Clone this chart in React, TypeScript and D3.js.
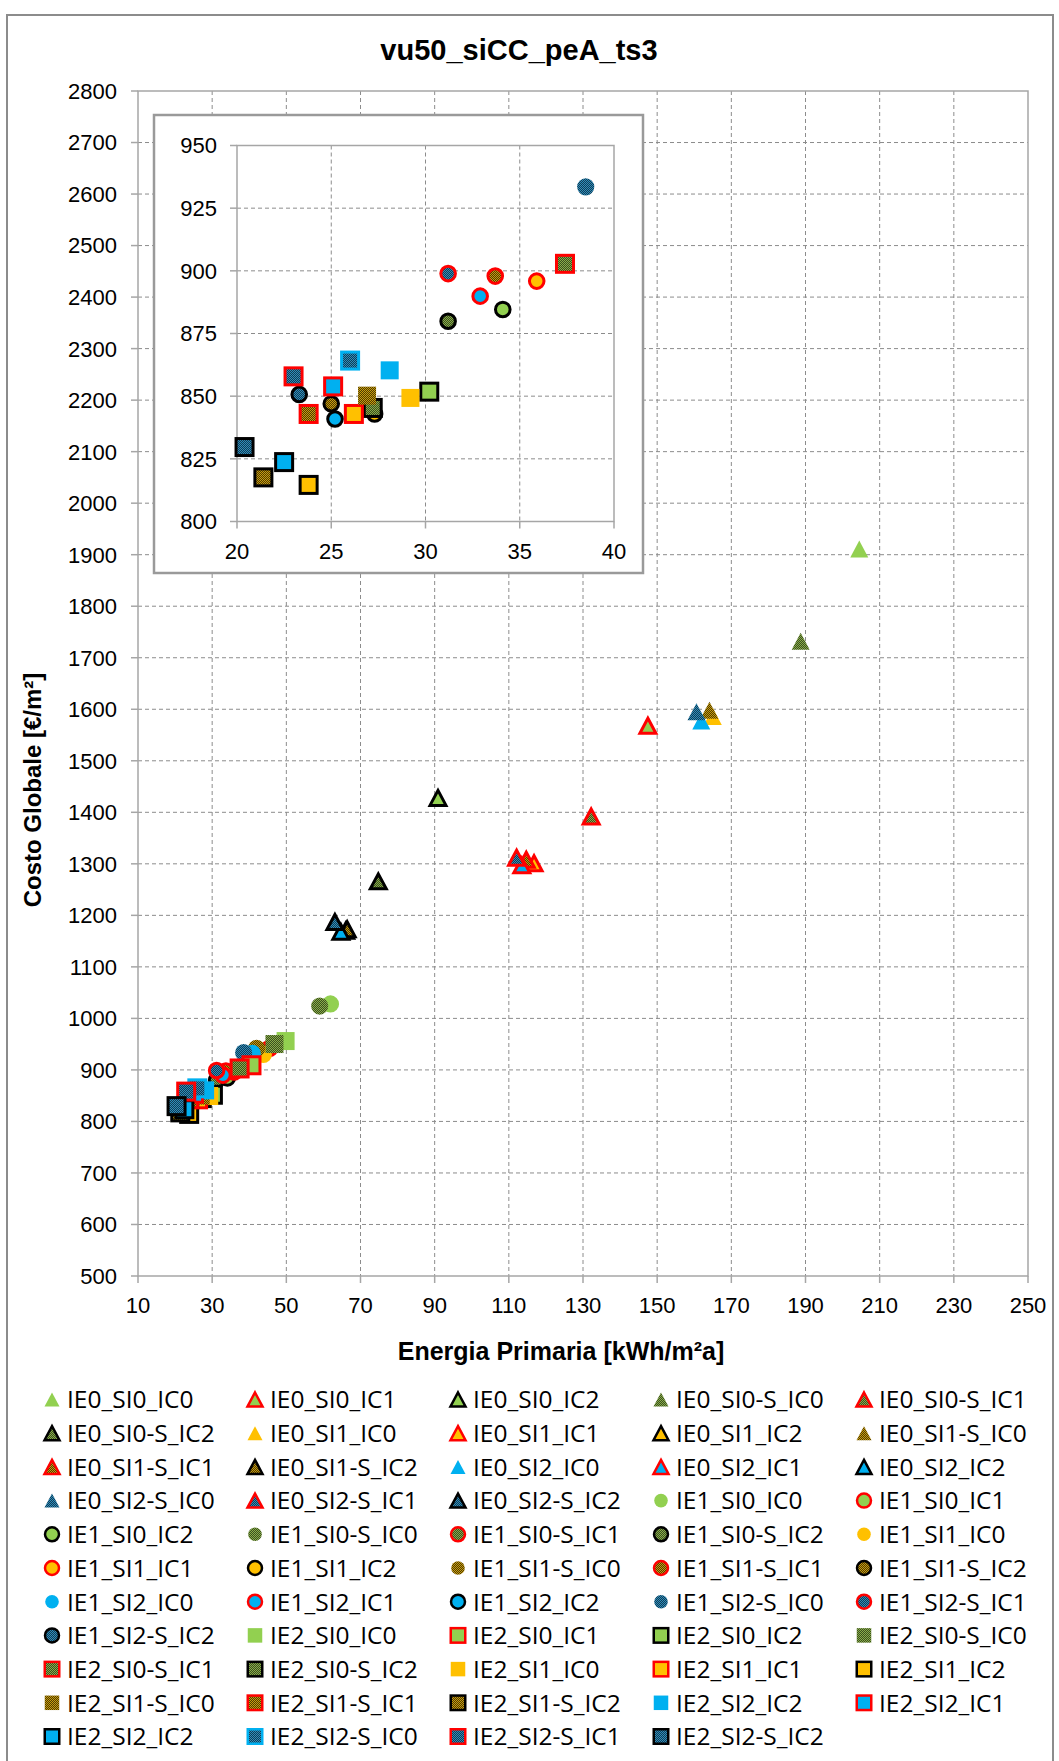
import { useEffect, useRef } from 'react'
import * as d3 from 'd3'

const W = 1059
const H = 1761

const chartTitle = 'vu50_siCC_peA_ts3'
const xTitle = 'Energia Primaria [kWh/m²a]'
const yTitle = 'Costo Globale [€/m²]'

const xTicks = [10, 30, 50, 70, 90, 110, 130, 150, 170, 190, 210, 230, 250]
const yTicks = [500, 600, 700, 800, 900, 1000, 1100, 1200, 1300, 1400, 1500, 1600, 1700, 1800, 1900, 2000, 2100, 2200, 2300, 2400, 2500, 2600, 2700, 2800]
const insetXTicks = [20, 25, 30, 35, 40]
const insetYTicks = [800, 825, 850, 875, 900, 925, 950]

// series codes (used for the marker style)
const seriesKeys = [
    'IE0_SI0_IC0', 'IE0_SI0_IC1', 'IE0_SI0_IC2', 'IE0_SI0-S_IC0', 'IE0_SI0-S_IC1', 'IE0_SI0-S_IC2',
    'IE0_SI1_IC0', 'IE0_SI1_IC1', 'IE0_SI1_IC2', 'IE0_SI1-S_IC0', 'IE0_SI1-S_IC1', 'IE0_SI1-S_IC2',
    'IE0_SI2_IC0', 'IE0_SI2_IC1', 'IE0_SI2_IC2', 'IE0_SI2-S_IC0', 'IE0_SI2-S_IC1', 'IE0_SI2-S_IC2',
    'IE1_SI0_IC0', 'IE1_SI0_IC1', 'IE1_SI0_IC2', 'IE1_SI0-S_IC0', 'IE1_SI0-S_IC1', 'IE1_SI0-S_IC2',
    'IE1_SI1_IC0', 'IE1_SI1_IC1', 'IE1_SI1_IC2', 'IE1_SI1-S_IC0', 'IE1_SI1-S_IC1', 'IE1_SI1-S_IC2',
    'IE1_SI2_IC0', 'IE1_SI2_IC1', 'IE1_SI2_IC2', 'IE1_SI2-S_IC0', 'IE1_SI2-S_IC1', 'IE1_SI2-S_IC2',
    'IE2_SI0_IC0', 'IE2_SI0_IC1', 'IE2_SI0_IC2', 'IE2_SI0-S_IC0', 'IE2_SI0-S_IC1', 'IE2_SI0-S_IC2',
    'IE2_SI1_IC0', 'IE2_SI1_IC1', 'IE2_SI1_IC2', 'IE2_SI1-S_IC0', 'IE2_SI1-S_IC1', 'IE2_SI1-S_IC2',
    'IE2_SI2_IC0', 'IE2_SI2_IC1', 'IE2_SI2_IC2', 'IE2_SI2-S_IC0', 'IE2_SI2-S_IC1', 'IE2_SI2-S_IC2',
]

// legend text as printed (one label repeats in the original)
const legendLabels = [
    'IE0_SI0_IC0', 'IE0_SI0_IC1', 'IE0_SI0_IC2', 'IE0_SI0-S_IC0', 'IE0_SI0-S_IC1', 'IE0_SI0-S_IC2',
    'IE0_SI1_IC0', 'IE0_SI1_IC1', 'IE0_SI1_IC2', 'IE0_SI1-S_IC0', 'IE0_SI1-S_IC1', 'IE0_SI1-S_IC2',
    'IE0_SI2_IC0', 'IE0_SI2_IC1', 'IE0_SI2_IC2', 'IE0_SI2-S_IC0', 'IE0_SI2-S_IC1', 'IE0_SI2-S_IC2',
    'IE1_SI0_IC0', 'IE1_SI0_IC1', 'IE1_SI0_IC2', 'IE1_SI0-S_IC0', 'IE1_SI0-S_IC1', 'IE1_SI0-S_IC2',
    'IE1_SI1_IC0', 'IE1_SI1_IC1', 'IE1_SI1_IC2', 'IE1_SI1-S_IC0', 'IE1_SI1-S_IC1', 'IE1_SI1-S_IC2',
    'IE1_SI2_IC0', 'IE1_SI2_IC1', 'IE1_SI2_IC2', 'IE1_SI2-S_IC0', 'IE1_SI2-S_IC1', 'IE1_SI2-S_IC2',
    'IE2_SI0_IC0', 'IE2_SI0_IC1', 'IE2_SI0_IC2', 'IE2_SI0-S_IC0', 'IE2_SI0-S_IC1', 'IE2_SI0-S_IC2',
    'IE2_SI1_IC0', 'IE2_SI1_IC1', 'IE2_SI1_IC2', 'IE2_SI1-S_IC0', 'IE2_SI1-S_IC1', 'IE2_SI1-S_IC2',
    'IE2_SI2_IC2', 'IE2_SI2_IC1', 'IE2_SI2_IC2', 'IE2_SI2-S_IC0', 'IE2_SI2-S_IC1', 'IE2_SI2-S_IC2',
]

// Energia Primaria [kWh/m2a]
const energia = [
    204.5, 147.5, 90.9, 188.7, 132.2, 74.8,
    165.0, 116.8, 66.0, 164.1, 114.7, 66.4,
    161.9, 113.5, 64.7, 160.6, 112.1, 63.1,
    61.9, 45.5, 34.1, 59.0, 44.0, 31.2,
    43.8, 35.9, 27.3, 42.0, 33.7, 25.0,
    40.8, 32.9, 25.2, 38.5, 31.2, 23.3,
    49.8, 40.6, 30.2, 46.8, 37.4, 27.2,
    29.2, 26.2, 23.8, 26.9, 23.8, 21.4,
    28.1, 25.1, 22.5, 26.0, 23.0, 20.4,
]

// Costo Globale [€/m2]
const costo = [
    1911, 1568, 1428, 1732, 1392, 1266,
    1586, 1301, 1170, 1598, 1308, 1173,
    1577, 1297, 1168, 1595, 1312, 1187,
    1028, 942, 884.6, 1024, 936, 879.9,
    930, 895.9, 842.9, 941.8, 897.9, 847.0,
    932, 889.9, 840.9, 933.5, 898.9, 850.7,
    956, 909, 851.8, 950.2, 902.8, 845.3,
    849.3, 842.9, 814.6, 850.2, 842.9, 817.6,
    860.3, 853.9, 823.7, 864.2, 857.9, 829.7,
]

const SI_COLORS: any = { '0': '#92D050', '1': '#FFC000', '2': '#00B0F0' }
const PATTERNS = [
    ['si0', '#3a4f1f', '#8aac4a'],
    ['si1', '#4f3c00', '#c89c10'],
    ['si2', '#123c54', '#2e8dbb'],
]
const FONT = "'Liberation Sans', Arial, sans-serif"
const LEGEND_FONT = "'Open Sans', 'Liberation Sans', sans-serif"

function fillOf(key: string) {
    const m: any = key.match(/SI(\d)(-S)?/)
    if (m[2]) return `url(#pat-si${m[1]})`
    return SI_COLORS[m[1]]
}
function strokeOf(key: string) {
    if (key === 'IE2_SI2-S_IC0') return '#00B0F0'
    if (key.endsWith('IC1')) return '#FF0000'
    if (key.endsWith('IC2')) return '#000000'
    return 'none'
}

/* draws one marker centred at x,y */
function marker(g: any, key: string, x: number, y: number, small: boolean) {
    const stroke = strokeOf(key)
    const lined = stroke !== 'none'
    const sw = small ? 2.5 : 3
    const fill = fillOf(key)
    if (key.startsWith('IE1')) {
        const r = small ? (lined ? 7 : 6.8) : (lined ? 7.3 : 8.6)
        g.append('circle').attr('cx', x).attr('cy', y).attr('r', r)
            .attr('fill', fill).attr('stroke', stroke).attr('stroke-width', sw)
    } else if (key.startsWith('IE2')) {
        const s = small ? 14.5 : (lined ? 17 : 18)
        g.append('rect').attr('x', x - s / 2).attr('y', y - s / 2).attr('width', s).attr('height', s)
            .attr('fill', fill).attr('stroke', stroke).attr('stroke-width', sw)
    } else {
        const w = small ? 15 : (lined ? 16 : 18)
        const h = small ? 14 : (lined ? 15 : 17)
        g.append('path')
            .attr('d', `M${x},${y - h / 2} L${x + w / 2},${y + h / 2} L${x - w / 2},${y + h / 2} Z`)
            .attr('fill', fill).attr('stroke', stroke).attr('stroke-width', sw)
            .attr('stroke-linejoin', 'miter')
    }
}

export default function App() {
    const svgRef = useRef<SVGSVGElement | null>(null)

    useEffect(() => {
        const svg = d3.select(svgRef.current)
        svg.selectAll('*').remove()

        const points = seriesKeys.map((k, i) => ({ key: k, label: legendLabels[i], x: energia[i], y: costo[i] }))

        const defs = svg.append('defs')
        PATTERNS.forEach(([id, dark, light]) => {
            const p = defs.append('pattern').attr('id', 'pat-' + id)
                .attr('width', 2).attr('height', 2).attr('patternUnits', 'userSpaceOnUse')
            p.append('rect').attr('width', 2).attr('height', 2).attr('fill', dark)
            p.append('rect').attr('width', 1).attr('height', 1).attr('fill', light)
            p.append('rect').attr('x', 1).attr('y', 1).attr('width', 1).attr('height', 1).attr('fill', light)
        })

        svg.append('rect').attr('width', W).attr('height', H).attr('fill', '#fff')
        // outer chart frame
        svg.append('rect').attr('x', 7).attr('y', 15).attr('width', 1046).attr('height', 1770)
            .attr('fill', 'none').attr('stroke', '#8c8c8c').attr('stroke-width', 2)

        svg.append('text').attr('x', 519).attr('y', 60).attr('text-anchor', 'middle')
            .attr('font-family', FONT).attr('font-weight', 'bold').attr('font-size', 29)
            .text(chartTitle)

        /* main plot */
        const x = d3.scaleLinear().domain([10, 250]).range([138, 1028])
        const y = d3.scaleLinear().domain([500, 2800]).range([1276, 91])
        const main = svg.append('g')

        main.selectAll('.vgrid').data(xTicks.slice(1, -1)).enter().append('line')
            .attr('x1', (d: any) => x(d)).attr('x2', (d: any) => x(d))
            .attr('y1', y(2800)).attr('y2', y(500))
            .attr('stroke', '#8c8c8c').attr('stroke-dasharray', '4 3')
        main.selectAll('.hgrid').data(yTicks.slice(1, -1)).enter().append('line')
            .attr('x1', x(10)).attr('x2', x(250))
            .attr('y1', (d: any) => y(d)).attr('y2', (d: any) => y(d))
            .attr('stroke', '#8c8c8c').attr('stroke-dasharray', '4 3')
        main.append('rect').attr('x', x(10)).attr('y', y(2800))
            .attr('width', x(250) - x(10)).attr('height', y(500) - y(2800))
            .attr('fill', 'none').attr('stroke', '#a6a6a6').attr('stroke-width', 1.5)
        main.selectAll('.ytick').data(yTicks).enter().append('line')
            .attr('x1', x(10) - 7).attr('x2', x(10)).attr('y1', (d: any) => y(d)).attr('y2', (d: any) => y(d))
            .attr('stroke', '#a6a6a6').attr('stroke-width', 1.5)
        main.selectAll('.xtick').data(xTicks).enter().append('line')
            .attr('x1', (d: any) => x(d)).attr('x2', (d: any) => x(d)).attr('y1', y(500)).attr('y2', y(500) + 7)
            .attr('stroke', '#a6a6a6').attr('stroke-width', 1.5)
        main.selectAll('.ylab').data(yTicks).enter().append('text')
            .attr('x', 117).attr('y', (d: any) => y(d)).attr('dy', '0.36em')
            .attr('text-anchor', 'end').attr('font-family', FONT).attr('font-size', 22)
            .text((d: any) => d)
        main.selectAll('.xlab').data(xTicks).enter().append('text')
            .attr('x', (d: any) => x(d)).attr('y', 1313)
            .attr('text-anchor', 'middle').attr('font-family', FONT).attr('font-size', 22)
            .text((d: any) => d)
        main.append('text').attr('x', 561).attr('y', 1360).attr('text-anchor', 'middle')
            .attr('font-family', FONT).attr('font-weight', 'bold').attr('font-size', 25)
            .text(xTitle)
        main.append('text').attr('transform', 'translate(41,790) rotate(-90)').attr('text-anchor', 'middle')
            .attr('font-family', FONT).attr('font-weight', 'bold').attr('font-size', 24)
            .text(yTitle)

        const mainPts = main.append('g')
        points.forEach(p => marker(mainPts, p.key, x(p.x), y(p.y), false))

        /* inset zoom */
        const ix = d3.scaleLinear().domain([20, 40]).range([237, 614])
        const iy = d3.scaleLinear().domain([800, 950]).range([521.5, 145.5])
        const inset = svg.append('g')
        inset.append('rect').attr('x', 154).attr('y', 115).attr('width', 489).attr('height', 458)
            .attr('fill', '#fff').attr('stroke', '#9a9a9a').attr('stroke-width', 2.5)
        inset.selectAll('.ivgrid').data(insetXTicks.slice(1, -1)).enter().append('line')
            .attr('x1', (d: any) => ix(d)).attr('x2', (d: any) => ix(d))
            .attr('y1', iy(950)).attr('y2', iy(800))
            .attr('stroke', '#8c8c8c').attr('stroke-dasharray', '4 3')
        inset.selectAll('.ihgrid').data(insetYTicks.slice(1, -1)).enter().append('line')
            .attr('x1', ix(20)).attr('x2', ix(40))
            .attr('y1', (d: any) => iy(d)).attr('y2', (d: any) => iy(d))
            .attr('stroke', '#8c8c8c').attr('stroke-dasharray', '4 3')
        inset.append('rect').attr('x', ix(20)).attr('y', iy(950))
            .attr('width', ix(40) - ix(20)).attr('height', iy(800) - iy(950))
            .attr('fill', 'none').attr('stroke', '#a6a6a6').attr('stroke-width', 1.5)
        inset.selectAll('.iytick').data(insetYTicks).enter().append('line')
            .attr('x1', ix(20) - 7).attr('x2', ix(20)).attr('y1', (d: any) => iy(d)).attr('y2', (d: any) => iy(d))
            .attr('stroke', '#a6a6a6').attr('stroke-width', 1.5)
        inset.selectAll('.ixtick').data(insetXTicks).enter().append('line')
            .attr('x1', (d: any) => ix(d)).attr('x2', (d: any) => ix(d)).attr('y1', iy(800)).attr('y2', iy(800) + 7)
            .attr('stroke', '#a6a6a6').attr('stroke-width', 1.5)
        inset.selectAll('.iylab').data(insetYTicks).enter().append('text')
            .attr('x', 217).attr('y', (d: any) => iy(d)).attr('dy', '0.36em')
            .attr('text-anchor', 'end').attr('font-family', FONT).attr('font-size', 22)
            .text((d: any) => d)
        inset.selectAll('.ixlab').data(insetXTicks).enter().append('text')
            .attr('x', (d: any) => ix(d)).attr('y', 559)
            .attr('text-anchor', 'middle').attr('font-family', FONT).attr('font-size', 22)
            .text((d: any) => d)
        const insetPts = inset.append('g')
        points.filter(p => p.x >= 20 && p.x <= 40 && p.y >= 800 && p.y <= 950)
            .forEach(p => marker(insetPts, p.key, ix(p.x), iy(p.y), false))

        /* legend, 5 columns */
        const legend = svg.append('g')
        points.forEach((p, i) => {
            const cx = 52 + (i % 5) * 203
            const cy = 1399.5 + Math.floor(i / 5) * 33.7
            marker(legend, p.key, cx, cy, true)
            legend.append('text').attr('x', cx + 15).attr('y', cy).attr('dy', '0.36em')
                .attr('font-family', LEGEND_FONT).attr('font-size', 24.5).attr('fill', '#000')
                .text(p.label)
        })
    }, [])

    return <svg ref={svgRef} width={W} height={H} style={{ position: 'absolute', left: 0, top: 0 }}></svg>
}
